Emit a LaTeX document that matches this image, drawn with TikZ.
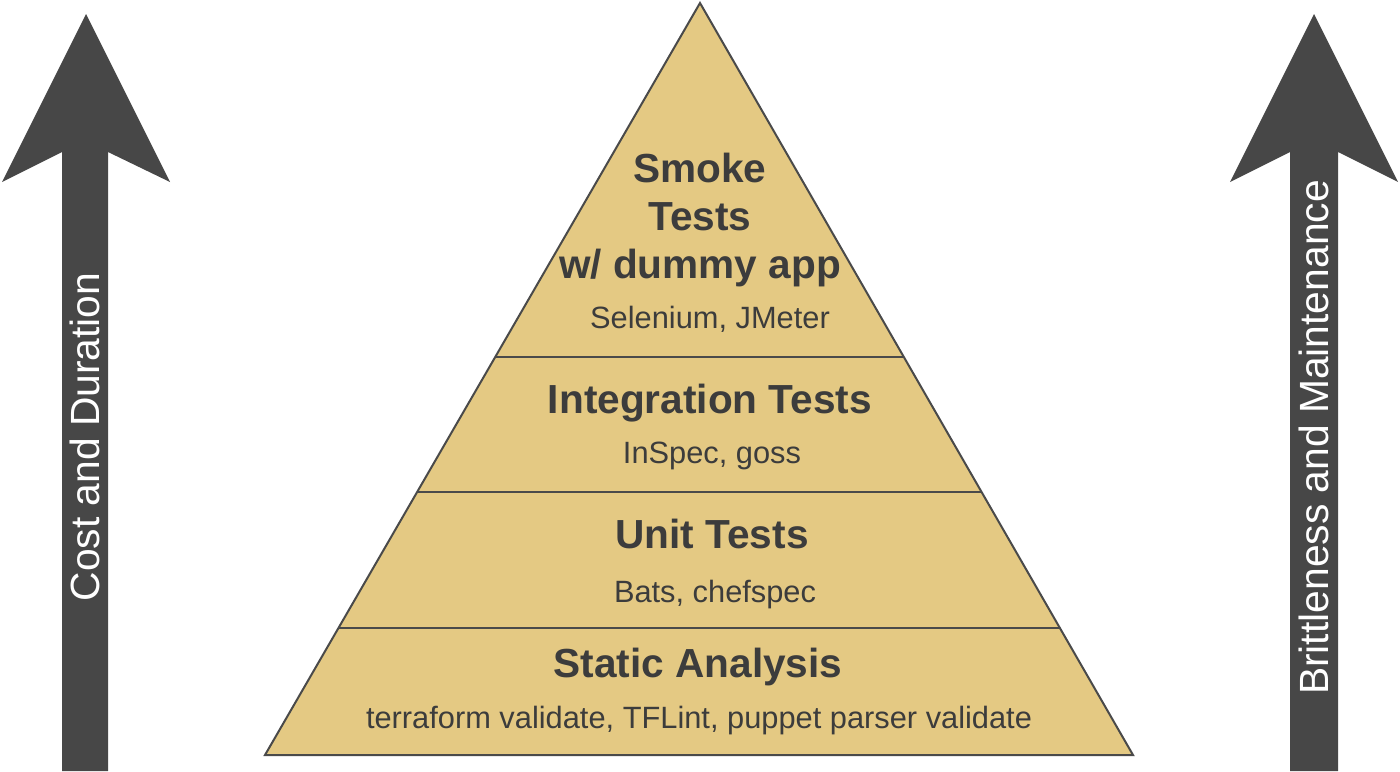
\documentclass[tikz,border=0pt]{standalone}
\usepackage{fontspec}
\setmainfont{Liberation Sans}
\definecolor{arrowgray}{HTML}{474747}
\definecolor{tan}{HTML}{E4C983}
\definecolor{edgegray}{HTML}{4A4A4A}
\definecolor{txtgray}{HTML}{3C3C3C}
\tikzset{
  bigarrow/.style={fill=arrowgray, draw=none},
  layer/.style={fill=tan, draw=edgegray, line width=1pt, line join=miter},
  divider/.style={draw=edgegray, line width=1.1pt},
  titletext/.style={anchor=base, inner sep=0pt, text=txtgray, font=\fontsize{20.3pt}{24pt}\selectfont\bfseries},
  tooltext/.style={anchor=base, inner sep=0pt, text=txtgray, font=\fontsize{15.4pt}{18pt}\selectfont},
  axistext/.style={anchor=base, inner sep=0pt, text=white, rotate=90, font=\fontsize{20.4pt}{24pt}\selectfont}
}
\begin{document}
\begin{tikzpicture}[x=0.5pt, y=-0.5pt]
\useasboundingbox (0,0) rectangle (1400,771);

% left arrow
\draw[bigarrow] (86,14) -- (170,182) -- (108,152) -- (108,771) -- (62,771) -- (62,152) -- (2,182) -- cycle;
% right arrow
\draw[bigarrow] (1314,14) -- (1398,182) -- (1338,152) -- (1338,771) -- (1290,771) -- (1290,152) -- (1230,182) -- cycle;

\node[axistext] (cost) at (99.5,437) {Cost and Duration};
\node[axistext] (brit) at (1328,437.5) {Brittleness and Maintenance};

% pyramid
\coordinate (apex) at (700,3);
\coordinate (bl) at (265,755);
\coordinate (br) at (1133,755);
\draw[layer] (apex) -- (br) -- (bl) -- cycle;
\coordinate (l1) at (495.5,357);
\coordinate (r1) at (903,357);
\coordinate (l2) at (417.5,492);
\coordinate (r2) at (980.5,492);
\coordinate (l3) at (339,628);
\coordinate (r3) at (1059,628);
\draw[divider] (l1) -- (r1);
\draw[divider] (l2) -- (r2);
\draw[divider] (l3) -- (r3);

\node[titletext] (smokeA) at (700,182) {Smoke};
\node[titletext] (smokeB) at (700,230) {Tests};
\node[titletext] (smokeC) at (700,278) {w/ dummy app};
\node[tooltext] (smokeT) at (710,328) {Selenium, JMeter};

\node[titletext] (integ) at (710,413) {Integration Tests};
\node[tooltext] (integT) at (712,463) {InSpec, goss};

\node[titletext] (unit) at (712,548) {Unit Tests};
\node[tooltext] (unitT) at (715,602) {Bats, chefspec};

\node[titletext] (static) at (698,677) {Static Analysis};
\node[tooltext] (staticT) at (699,728) {terraform validate, TFLint, puppet parser validate};
\end{tikzpicture}
\end{document}
